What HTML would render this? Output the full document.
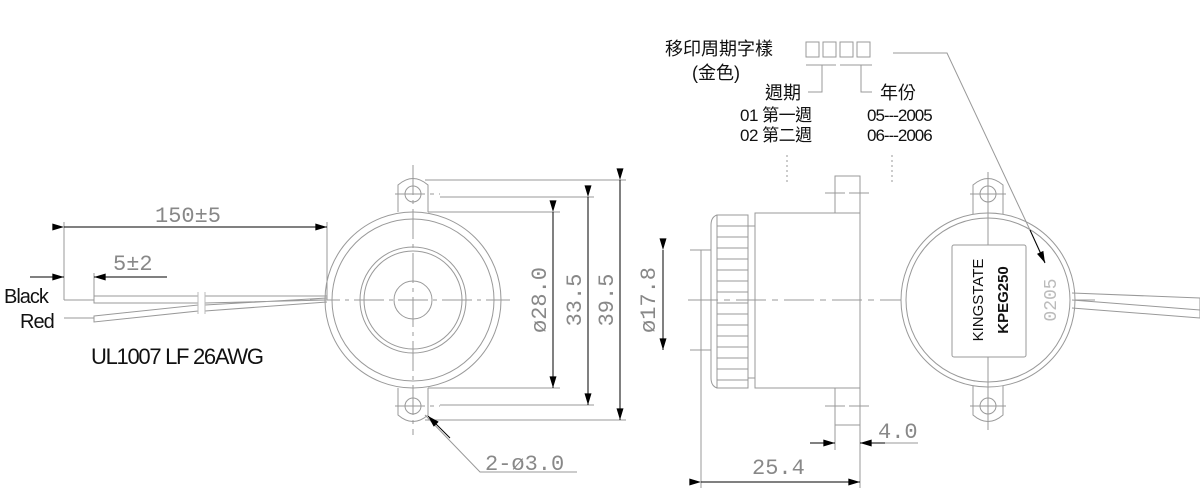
<!DOCTYPE html>
<html><head><meta charset="utf-8"><style>
html,body{margin:0;padding:0;background:#fff;}
svg{display:block}
.g{fill:#888;font-family:"Liberation Mono",monospace;}
.k{fill:#111;font-family:"Liberation Sans","Noto Sans CJK TC",sans-serif;}
</style></head><body>
<svg width="1200" height="500" viewBox="0 0 1200 500" xmlns="http://www.w3.org/2000/svg">
<defs>
<marker id="a" viewBox="0 0 10 6" refX="10" refY="3" markerWidth="16" markerHeight="7" markerUnits="userSpaceOnUse" orient="auto"><path d="M0,0L10,3L0,6z" fill="#000"/></marker>
</defs>
<g stroke="#999" stroke-width="1" fill="none">
<path d="M398,212 L398,185 Q413,172 428,185 L428,212"/>
<path d="M398,388 L398,415 Q413,428 428,415 L428,388"/>
<circle cx="413" cy="194" r="8"/><circle cx="413" cy="406" r="8"/>
<circle cx="413" cy="300" r="88" fill="#fff"/>
<circle cx="413" cy="300" r="81"/>
<circle cx="413" cy="300" r="53"/>
<circle cx="413" cy="300" r="49"/>
<circle cx="413" cy="300" r="19"/>
<path d="M413,165 V435 M310,300 H510 M395,194 H440 M395,406 H440" stroke-dasharray="30,5,4,5"/>
<path d="M428,212 H560 M428,388 H560 M440,197 H594 M440,405 H594 M425,180 H626 M425,420 H626"/>
<path d="M64,222 V300 M327,222 V300 M94,273 V298"/>
<path d="M64,318 H94 M64,300 H94"/>
<path d="M94,296 H198 V303 H94Z"/>
<path d="M94,316 L198,305 V311 L94,322Z"/>
<path d="M205,296 H327 M205,303 L327,300 M205,305 L327,298 M205,311 L327,302"/>
<path d="M198,292 V314 M205,292 V314" stroke="#bbb"/>
<path d="M425,415 L480,472 H577"/>
<rect x="755" y="213" width="105" height="175" fill="#fff"/>
<path d="M835,213 V176 H860 V213 M835,388 V425 H860 V388"/>
<path d="M825,193 H870 M825,406 H870" stroke-dasharray="20,4"/>
<path d="M717,215 H748 V388 H717 Z"/>
<path d="M717,215 Q711,217 711,225 V378 Q711,386 717,388"/>
<path d="M717,226H748M717,237H748M717,248H748M717,259H748M717,270H748M717,281H748M717,292H748M717,303H748M717,314H748M717,325H748M717,336H748M717,347H748M717,358H748M717,369H748M717,380H748"/>
<path d="M748,226H755M748,378H755"/>
<path d="M711,250 H701 V350 H711"/>
<path d="M690,250 H701 M690,350 H701"/>
<path d="M688,300 H1095" stroke-dasharray="30,6,6,6"/>
<path d="M701,350 V488 M860,425 V488 M835,425 V450"/>
<path d="M866,443 H918"/>
<path d="M973,216 V185 Q988,172 1003,185 V216"/>
<path d="M973,384 V415 Q988,428 1003,415 V384"/>
<circle cx="988" cy="194" r="8"/><circle cx="988" cy="406" r="8"/>
<circle cx="988" cy="300" r="87" fill="#fff"/>
<circle cx="988" cy="300" r="82"/>
<path d="M988,172 V430 M970,194 H1006 M970,406 H1006"/>
<rect x="952" y="245" width="74" height="112" rx="2" fill="#fff"/>
<path d="M1072,293 L1200,298 V318 L1072,308 M1072,300 L1200,310"/>
<rect x="806" y="42" width="13" height="15"/><rect x="823" y="42" width="13" height="15"/><rect x="840" y="42" width="13" height="15"/><rect x="857" y="42" width="13" height="15"/>
<path d="M806,65 H836 M840,65 H872 M822,65 V92 H808 M861,65 V92 H872"/>
<path d="M893,53 H947 L1045,262"/>
<path d="M787,155 V185 M892,155 V185" stroke-dasharray="2,3"/>
</g>
<g stroke="#000" stroke-width="1" fill="none">
<path d="M64,227 H327" marker-start="url(#a)" marker-end="url(#a)"/>
<path d="M30,277 H64" marker-end="url(#a)"/>
<path d="M167,277 H94" marker-end="url(#a)"/>
<path d="M553,212 V388" marker-start="url(#a)" marker-end="url(#a)"/>
<path d="M588,197 V405" marker-start="url(#a)" marker-end="url(#a)"/>
<path d="M620,180 V420" marker-start="url(#a)" marker-end="url(#a)"/>
<path d="M450,438 L428,416" marker-end="url(#a)"/>
<path d="M663,250 V350" marker-start="url(#a)" marker-end="url(#a)"/>
<path d="M810,443 H835" marker-end="url(#a)"/>
<path d="M885,443 H860" marker-end="url(#a)"/>
<path d="M701,482 H860" marker-start="url(#a)" marker-end="url(#a)"/>
<path d="M1030,230 L1045,263" marker-end="url(#a)"/>
</g>
<g class="g" font-size="22">
<text x="155" y="222">150±5</text>
<text x="113" y="270">5±2</text>
<text x="485" y="470">2-ø3.0</text>
<text x="752" y="474">25.4</text>
<text x="878" y="438">4.0</text>
<text transform="translate(546,300) rotate(-90)" text-anchor="middle">ø28.0</text>
<text transform="translate(581,300) rotate(-90)" text-anchor="middle">33.5</text>
<text transform="translate(613,300) rotate(-90)" text-anchor="middle">39.5</text>
<text transform="translate(655,300) rotate(-90)" text-anchor="middle">ø17.8</text>
<text transform="translate(1056,300) rotate(-90)" text-anchor="middle" font-size="18" fill="#bbb">0205</text>
</g>
<g class="k">
<text x="4" y="303" font-size="20" letter-spacing="-1">Black</text>
<text x="20" y="328" font-size="20" letter-spacing="-1">Red</text>
<text x="91" y="364" font-size="22" letter-spacing="-1.3">UL1007 LF 26AWG</text>
<text transform="translate(983,300) rotate(-90)" text-anchor="middle" font-size="15">KINGSTATE</text>
<text transform="translate(1008,300) rotate(-90)" text-anchor="middle" font-size="15" font-weight="bold">KPEG250</text>
<g font-size="18">
<text x="665" y="55">移印周期字樣</text>
<text x="692" y="79">(金色)</text>
<text x="765" y="99">週期</text>
<text x="880" y="99">年份</text>
<text x="740" y="121" font-size="17" letter-spacing="-0.5">01 第一週</text>
<text x="740" y="141" font-size="17" letter-spacing="-0.5">02 第二週</text>
<text x="867" y="121" font-size="17" letter-spacing="-1">05---2005</text>
<text x="867" y="141" font-size="17" letter-spacing="-1">06---2006</text>
</g>
</g>
</svg>
</body></html>
